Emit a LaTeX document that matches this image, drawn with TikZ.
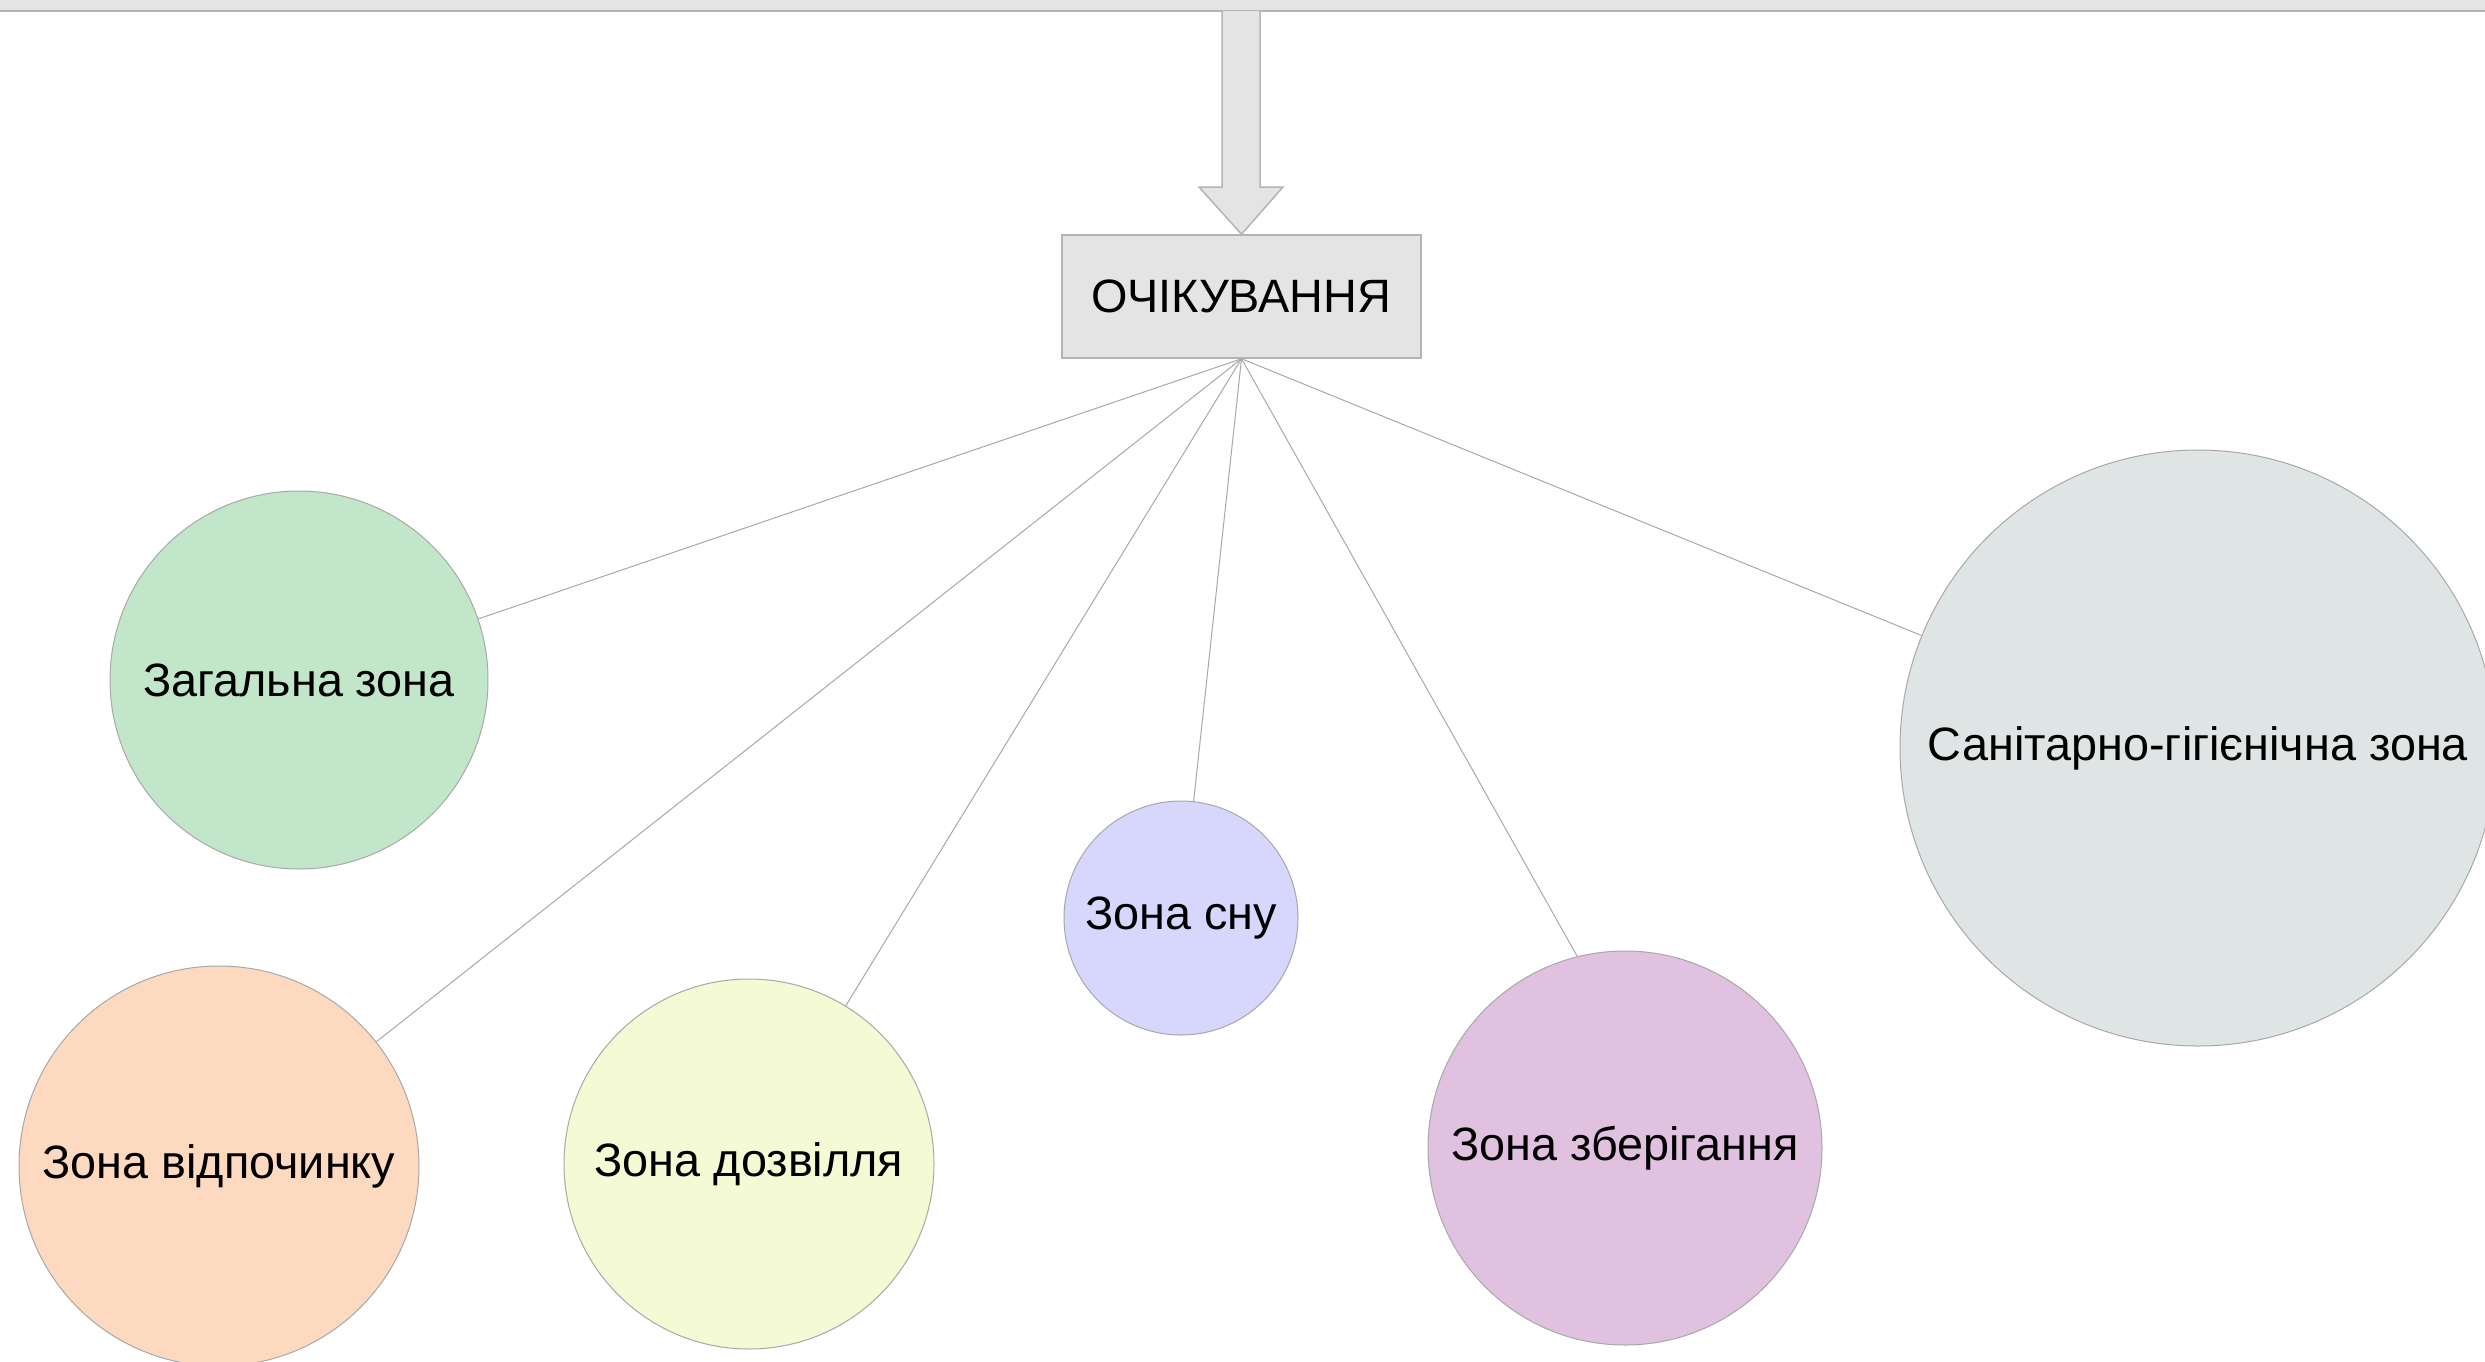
\documentclass[tikz,border=0pt]{standalone}
\usepackage{fontspec}
\setmainfont{Liberation Sans}
\definecolor{boxgray}{HTML}{E4E4E4}
\definecolor{edgegray}{HTML}{B4B4B4}
\definecolor{linegray}{HTML}{A8A8A8}
\definecolor{cgreen}{HTML}{C2E6C9}
\definecolor{cpeach}{HTML}{FDD9BF}
\definecolor{cyellow}{HTML}{F4FAD3}
\definecolor{clilac}{HTML}{D7D6FD}
\definecolor{cpurple}{HTML}{E0C2E0}
\definecolor{cgray}{HTML}{DFE5E4}
\begin{document}
\begin{tikzpicture}[x=0.5pt,y=-0.5pt,
	zone/.style={circle,draw=linegray,line width=0.5pt,inner sep=0pt,font=\fontsize{23.4}{27}\selectfont},
	link/.style={draw=linegray,line width=0.5pt}]
\useasboundingbox (0,0) rectangle (2485,1361);
% bar above, cut off by the page
\draw[fill=boxgray,draw=edgegray,line width=0.75pt] (-20,-40) rectangle (2505,11);
\node[draw=edgegray,fill=boxgray,line width=0.75pt,minimum width=179.5pt,minimum height=61.5pt,
	font=\fontsize{23.4}{27}\selectfont] (wait) at (1241.5,296.5) {ОЧІКУВАННЯ};
\draw[fill=boxgray,draw=edgegray,line width=0.75pt] (1222,11) -- (1222,187) -- (1199,187)
	-- (wait.north) -- (1283,187) -- (1260,187) -- (1260,11);
% zones
\node[zone,fill=cgreen,minimum size=189pt] (common) at (299,680) {Загальна зона};
\node[zone,fill=cpeach,minimum size=200pt] (rest) at (219,1166) {Зона відпочинку};
\node[zone,fill=cyellow,minimum size=185pt] (leisure) at (749,1164) {Зона дозвілля};
\node[zone,fill=clilac,minimum size=117pt] (sleep) at (1181,918) {Зона сну};
\node[zone,fill=cpurple,minimum size=197pt] (store) at (1625,1148) {Зона зберігання};
\node[zone,fill=cgray,minimum size=298pt] (sanit) at (2198,748) {Санітарно-гігієнічна зона};
\foreach \z in {common,rest,leisure,sleep,store.104,sanit}
	\draw[link] (wait.south) -- (\z);
\end{tikzpicture}
\end{document}
